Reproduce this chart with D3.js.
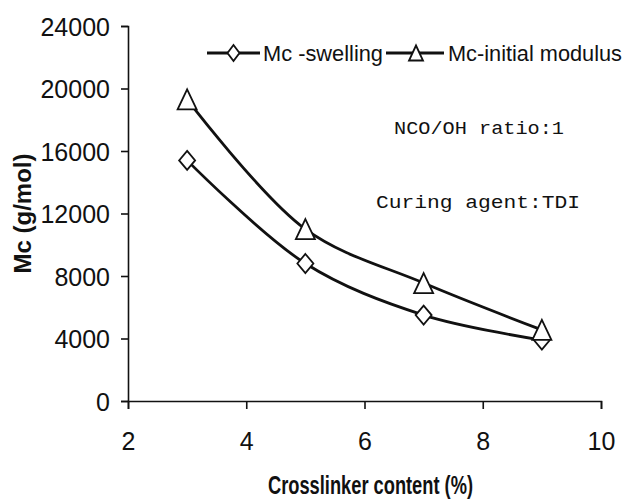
<!DOCTYPE html>
<html>
<head>
<meta charset="utf-8">
<script src="https://cdn.jsdelivr.net/npm/d3@7"></script>
<style>
  html, body { margin: 0; padding: 0; background: #fff; }
  svg { display: block; }
  .narrow { font-family: "Liberation Sans Narrow", "Arial Narrow", "Liberation Sans", Arial, sans-serif; }
</style>
</head>
<body>
<svg id="chart" width="624" height="500"></svg>
<script>
// Crosslinker content (%) and molecular weight between crosslinks Mc (g/mol)
const crosslinker = [3, 5, 7, 9];
const mcSwelling = [15400, 8800, 5500, 3900];
const mcInitialModulus = [19300, 11000, 7550, 4550];
const xTicks = [2, 4, 6, 8, 10];
const yTicks = [0, 4000, 8000, 12000, 16000, 20000, 24000];
const seriesNames = ["Mc -swelling", "Mc-initial modulus"];
const notes = ["NCO/OH ratio:1", "Curing agent:TDI"];

const svg = d3.select("#chart");
const x = d3.scaleLinear().domain([2, 10]).range([128, 601]);
const y = d3.scaleLinear().domain([0, 24000]).range([401, 26]);

const ink = "#111";

// axes
const yAxis = svg.append("g").attr("transform", `translate(${x(2)},0)`)
  .call(d3.axisLeft(y).tickValues(yTicks).tickSize(7).tickPadding(11).tickFormat(d3.format("d")));
const xAxis = svg.append("g").attr("transform", `translate(0,${y(0)})`)
  .call(d3.axisBottom(x).tickValues(xTicks).tickSize(8).tickPadding(23).tickFormat(d3.format("d")));

[yAxis, xAxis].forEach(g => {
  g.selectAll("path.domain").attr("stroke", ink).attr("stroke-width", 1.6);
  g.selectAll(".tick line").attr("stroke", ink).attr("stroke-width", 1.6);
  g.selectAll(".tick text").attr("class", "narrow").attr("fill", ink)
    .style("font-size", "25px");
});
yAxis.selectAll(".tick text").attr("dy", "0.36em");

// axis titles
svg.append("text").attr("class", "narrow")
  .attr("x", 268).attr("y", 494)
  .attr("textLength", 205).attr("lengthAdjust", "spacingAndGlyphs")
  .style("font-size", "25px").style("font-weight", "bold").attr("fill", ink)
  .text("Crosslinker content (%)");
svg.append("text")
  .attr("transform", `translate(31,${y(12000)}) rotate(-90)`)
  .attr("text-anchor", "middle")
  .style("font-family", "Liberation Sans, Arial, sans-serif")
  .style("font-size", "24px").style("font-weight", "bold").attr("fill", ink)
  .text("Mc (g/mol)");

// smoothed series lines
const line = d3.line().x(d => x(d[0])).y(d => y(d[1])).curve(d3.curveCatmullRom.alpha(0.5));
const series = [
  { values: mcSwelling, shape: "diamond" },
  { values: mcInitialModulus, shape: "triangle" }
];

function marker(g, shape, cx, cy, w, h) {
  const d = shape === "diamond"
    ? `M${cx},${cy - h / 2}L${cx + w / 2},${cy}L${cx},${cy + h / 2}L${cx - w / 2},${cy}Z`
    : `M${cx},${cy - h / 2}L${cx + w / 2},${cy + h / 2}L${cx - w / 2},${cy + h / 2}Z`;
  g.append("path").attr("d", d)
    .attr("fill", "#fff").attr("stroke", ink).attr("stroke-width", 1.8);
}

series.forEach(s => {
  const pts = crosslinker.map((c, i) => [c, s.values[i]]);
  svg.append("path").datum(pts).attr("d", line)
    .attr("fill", "none").attr("stroke", ink).attr("stroke-width", 2.8);
  const mg = svg.append("g");
  pts.forEach(p => s.shape === "diamond"
    ? marker(mg, "diamond", x(p[0]), y(p[1]), 16, 19)
    : marker(mg, "triangle", x(p[0]), y(p[1]), 19, 20));
});

// legend
const lg = svg.append("g");
const legendY = 53;
const legendItems = [
  { x0: 207, x1: 260, shape: "diamond", label: seriesNames[0], tx: 263, w: 120 },
  { x0: 386, x1: 444, shape: "triangle", label: seriesNames[1], tx: 448, w: 174 }
];
legendItems.forEach(it => {
  lg.append("line").attr("x1", it.x0).attr("x2", it.x1).attr("y1", legendY).attr("y2", legendY)
    .attr("stroke", ink).attr("stroke-width", 3);
  if (it.shape === "diamond") marker(lg, "diamond", (it.x0 + it.x1) / 2, legendY, 12, 16);
  else marker(lg, "triangle", (it.x0 + it.x1) / 2 + 1, legendY, 14, 15);
  lg.append("text").attr("class", "narrow").attr("x", it.tx).attr("y", legendY).attr("dy", "0.36em")
    .attr("textLength", it.w).attr("lengthAdjust", "spacingAndGlyphs")
    .style("font-size", "22px").attr("fill", ink).text(it.label);
});

// annotations
svg.append("text").attr("x", 394).attr("y", 128).attr("dy", "0.35em")
  .attr("textLength", 170).attr("lengthAdjust", "spacingAndGlyphs")
  .style("font-family", "Liberation Mono, Courier New, monospace").style("font-size", "18px")
  .attr("fill", ink).text(notes[0]);
svg.append("text").attr("x", 376).attr("y", 202).attr("dy", "0.35em")
  .attr("textLength", 204).attr("lengthAdjust", "spacingAndGlyphs")
  .style("font-family", "Liberation Mono, Courier New, monospace").style("font-size", "18px")
  .attr("fill", ink).text(notes[1]);
</script>
</body>
</html>
